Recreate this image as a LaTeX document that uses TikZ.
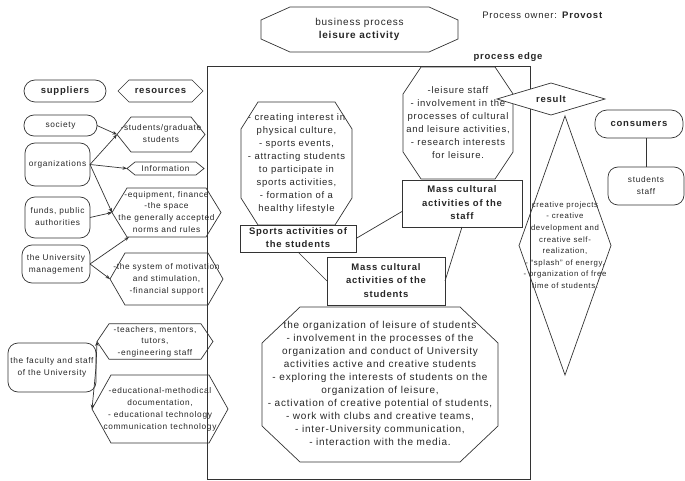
\documentclass[tikz,border=0pt]{standalone}
\usepackage{fontspec}
\setmainfont{Liberation Sans}[LetterSpace=8]
\usetikzlibrary{arrows.meta,calc}

% centred multi-line text that does not widen its node
\newcommand\ml[1]{\makebox[0pt]{\begin{tabular}{@{}c@{}}#1\end{tabular}}}
% octagon (chamfered box) around a node: #2 horizontal cut, #3 vertical cut
\newcommand\octo[3]{\draw ([xshift=#2pt]#1.north west) -- ([xshift=-#2pt]#1.north east)
  -- ([yshift=-#3pt]#1.north east) -- ([yshift=#3pt]#1.south east)
  -- ([xshift=-#2pt]#1.south east) -- ([xshift=#2pt]#1.south west)
  -- ([yshift=#3pt]#1.south west) -- ([yshift=-#3pt]#1.north west) -- cycle;}
% hexagon pointed left and right
\newcommand\hexa[2]{\draw ([xshift=#2pt]#1.north west) -- ([xshift=-#2pt]#1.north east)
  -- (#1.east) -- ([xshift=-#2pt]#1.south east) -- ([xshift=#2pt]#1.south west)
  -- (#1.west) -- cycle;}
% diamond through the side midpoints
\newcommand\diam[2][]{\draw[#1] (#2.north) -- (#2.east) -- (#2.south) -- (#2.west) -- cycle;}

\begin{document}
\begin{tikzpicture}[x=1pt,y=-1pt,line width=0.7pt,draw=black!80,text=black!85,
  shp/.style 2 args={rectangle,inner sep=0pt,outer sep=0pt,minimum width=#1pt,minimum height=#2pt},
  sbox/.style 2 args={shp={#1}{#2},draw},
  rbox/.style 2 args={shp={#1}{#2},draw,rounded corners=10pt},
  small/.style={font=\fontsize{8.3}{11.8}\selectfont},
  tiny/.style={font=\fontsize{7.8}{11.6}\selectfont},
  mid/.style={font=\fontsize{9.5}{13}\selectfont},
  bmid/.style={font=\fontsize{9.5}{13.5}\selectfont\bfseries},
  big/.style={font=\fontsize{10}{13}\selectfont},
  arr/.style={-{Stealth[length=4.5pt,width=3.5pt]}}]
\useasboundingbox (0,0) rectangle (685,481);

% process frame
\node[sbox={323}{413}] (proc) at (368.5,272.5) {};

% suppliers
\node[rbox={82}{22},rounded corners=11pt,bmid] (sup) at (65,91) {suppliers};
\node[rbox={73}{21},small] (soc) at (60.5,125.5) {society};
\node[rbox={65}{43},small] (org) at (57.5,164.5) {organizations};
\node[rbox={65}{41},small] (fund) at (57.5,217.5) {\ml{funds, public\\authorities}};
\node[rbox={68}{38},small] (mgmt) at (56,264) {\ml{the University\\management}};
\node[rbox={88}{49},small] (fac) at (52,367.5) {\ml{the faculty and staff\\of the University}};

% resources
\node[shp={85}{22},bmid] (res) at (160.5,91) {resources}; \hexa{res}{11}
\node[shp={88}{35},small] (stud) at (161,134.5) {\ml{-students/graduate\\students}}; \hexa{stud}{14}
\node[shp={77}{13},small] (info) at (165.5,168.5) {Information}; \hexa{info}{8}
\node[shp={109}{49},small] (equip) at (166.5,212.5)
  {\ml{-equipment, finance\\-the space\\the generally accepted\\norms and rules}}; \hexa{equip}{15}
\node[shp={113}{52},small] (motiv) at (166.5,279)
  {\ml{-the system of motivation\\and stimulation,\\-financial support}}; \hexa{motiv}{15}
\node[shp={116}{33},small] (teach) at (155,341.5)
  {\ml{-teachers, mentors,\\tutors,\\-engineering staff}}; \hexa{teach}{12}
\node[shp={136}{68},small] (edu) at (160,409)
  {\ml{-educational-methodical\\documentation,\\- educational technology\\communication technology}}; \hexa{edu}{19}

% title and owner
\node[shp={197}{45},big] (bp) at (359.5,29.5) {\ml{business process\\\textbf{leisure activity}}}; \octo{bp}{29}{13}
\node[mid,anchor=west,inner sep=0pt] (owner) at (482,15) {Process owner: \textbf{Provost}};
\node[bmid,inner sep=0pt] (edge) at (508,57) {process edge};

% activities inside the process
\node[shp={110}{112},mid] (leis) at (458,123)
  {\ml{-leisure staff\\- involvement in the\\processes of cultural\\and leisure activities,\\- research interests\\for leisure.}}; \octo{leis}{18}{27}
\node[sbox={120}{47},bmid] (staffB) at (462,203.5) {\ml{Mass cultural\\activities of the\\staff}};
\node[shp={111}{123},mid] (sportO) at (296.5,163.5)
  {\ml{- creating interest in\\physical culture,\\- sports events,\\- attracting students\\to participate in\\sports activities,\\- formation of a\\healthy lifestyle}}; \octo{sportO}{17}{27}
\node[sbox={116}{27},bmid] (sportB) at (298,238.5) {\ml{Sports activities of\\the students}};
\node[sbox={118}{48},bmid] (massB) at (386,281) {\ml{Mass cultural\\activities of the\\students}};
\node[shp={236}{155},big] (studO) at (380,384.5)
  {\ml{the organization of leisure of students\\- involvement in the processes of the\\organization and conduct of University\\activities active and creative students\\- exploring the interests of students on the\\organization of leisure,\\- activation of creative potential of students,\\- work with clubs and creative teams,\\- inter-University communication,\\- interaction with the media.}}; \octo{studO}{38}{36}

\draw (sportB.east) -- ($(staffB.west)+(0,8)$);
\draw (sportB.south) -- (massB.west);
\draw (staffB.south) -- (massB.east);

% result and consumers
\node[shp={108}{32}] (result) at (551,99) {};
\diam[fill=white]{result}
\node[bmid] at (result) (resultT) {result};
\node[shp={92}{259},tiny] (creat) at (565,245.5)
  {\ml{creative projects\\- creative\\development and\\creative self-\\realization,\\- “splash” of energy,\\- organization of free\\time of students.}}; \diam{creat}
\node[rbox={88}{28},rounded corners=12pt,bmid] (cons) at (639,124) {consumers};
\node[rbox={76}{38},small] (staff) at (646,186) {\ml{students\\staff}};
\draw (staff.north) -- (staff.north |- cons.south);

% supply arrows
\draw[arr] (soc.east) -- (stud.west);
\draw[arr] (org.east) -- (stud.west);
\draw[arr] (org.east) -- (info.west);
\draw[arr] (org.east) -- (equip.west);
\draw[arr] (fund.east) -- (equip.west);
\draw[arr] (mgmt.east) -- ($(equip.south west)+(17,0)$);
\draw[arr] (mgmt.east) -- (motiv.west);
\draw[arr] (fac.east) -- (teach.west);
\draw[arr] (fac.east) -- (edu.west);
\end{tikzpicture}
\end{document}
